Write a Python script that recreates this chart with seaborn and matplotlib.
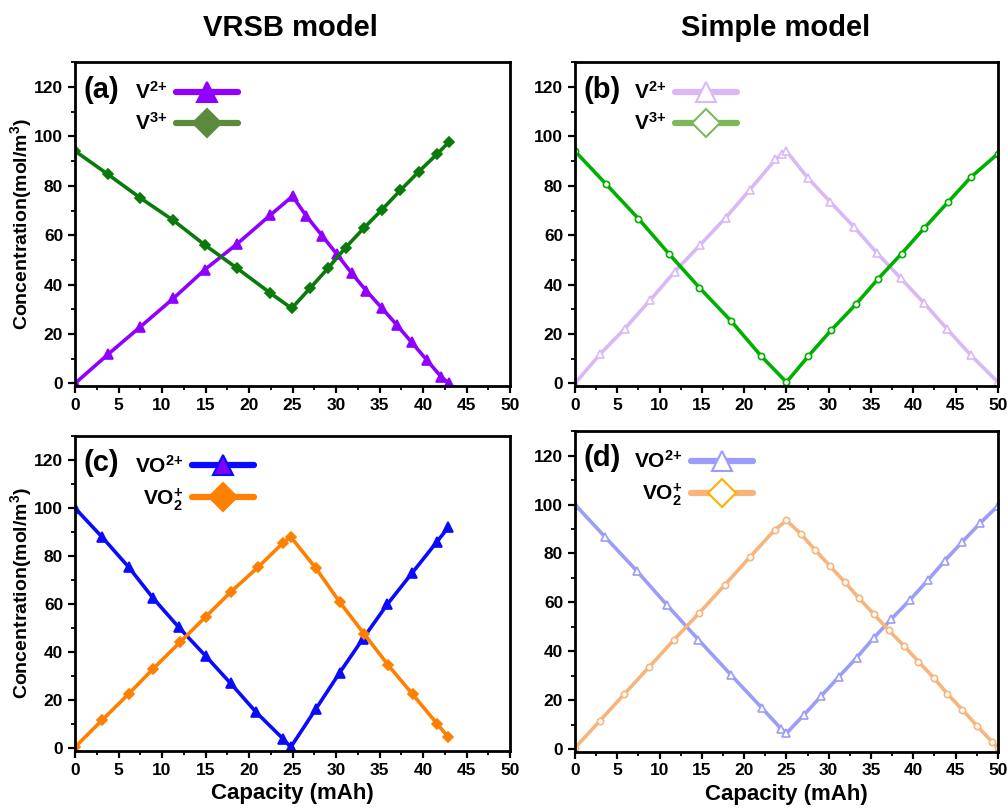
import matplotlib
matplotlib.use("Agg")
import matplotlib.pyplot as plt
import seaborn as sns
from matplotlib.lines import Line2D
from matplotlib.ticker import MultipleLocator

# Data
# (a) VRSB model, negative side
a_v2_x = [0, 3.8, 7.5, 11.3, 14.9, 18.6, 22.4, 25.0, 26.6, 28.4, 30.1, 31.8, 33.5, 35.3, 37.0, 38.7, 40.4, 42.1, 43.0]
a_v2_y = [0, 11.8, 22.9, 34.4, 46.0, 56.4, 68.0, 75.8, 67.7, 59.8, 52.3, 44.6, 37.4, 30.4, 23.6, 16.6, 9.6, 2.6, 0]
a_v3_x = [0, 3.8, 7.5, 11.3, 14.9, 18.6, 22.4, 24.9, 27.0, 29.1, 31.1, 33.2, 35.3, 37.4, 39.5, 41.6, 43.0]
a_v3_y = [94.1, 84.6, 75.1, 66.0, 56.1, 46.7, 36.7, 30.4, 38.5, 46.7, 55.0, 62.9, 70.4, 78.2, 85.7, 92.8, 97.8]

# (b) simple model, negative side
b_v2_x = [0, 3.0, 5.9, 8.9, 11.8, 14.8, 17.8, 20.7, 23.7, 24.5, 25.0, 27.5, 30.2, 33.0, 35.7, 38.5, 41.3, 44.0, 46.8, 50.0]
b_v2_y = [0, 12.0, 22.2, 33.8, 45.3, 56.1, 67.0, 78.5, 90.7, 93.0, 94.0, 83.3, 73.4, 63.3, 52.8, 42.6, 32.4, 22.0, 11.4, 0.5]
b_v3_x = [0, 3.7, 7.5, 11.1, 14.7, 18.5, 22.0, 25.0, 27.6, 30.3, 33.2, 35.8, 38.6, 41.3, 44.1, 46.8, 50.0]
b_v3_y = [94.0, 80.6, 66.7, 52.5, 38.8, 25.1, 11.1, 0.5, 11.1, 21.6, 32.0, 42.2, 52.5, 62.9, 73.4, 83.5, 93.0]

# (c) VRSB model, positive side
c_vo_x = [0, 3.1, 6.2, 9.0, 11.9, 15.0, 17.9, 20.8, 23.9, 24.8, 27.7, 30.4, 33.1, 35.9, 38.7, 41.6, 42.9]
c_vo_y = [100, 88.0, 75.3, 62.4, 50.5, 38.5, 27.0, 15.1, 4.0, 0.5, 16.5, 31.4, 45.7, 60.0, 72.8, 86.0, 92.0]
c_vo2_x = [0, 3.1, 6.2, 9.0, 12.1, 15.0, 17.9, 21.0, 23.9, 24.8, 27.7, 30.4, 33.2, 36.0, 38.8, 41.6, 42.9]
c_vo2_y = [0.5, 11.7, 22.8, 33.2, 44.3, 54.7, 65.1, 75.3, 85.5, 88.0, 74.9, 61.0, 47.8, 34.6, 22.5, 10.3, 4.7]

# (d) simple model, positive side
d_vo_x = [0, 3.6, 7.3, 10.9, 14.6, 18.4, 22.1, 24.4, 25.0, 27.1, 29.1, 31.2, 33.3, 35.3, 37.4, 39.6, 41.7, 43.7, 45.8, 47.9, 50.0]
d_vo_y = [100, 86.6, 72.9, 58.8, 44.7, 30.5, 16.8, 8.2, 6.5, 14.1, 21.7, 29.6, 37.4, 45.4, 53.2, 61.0, 69.0, 77.0, 84.8, 92.4, 99.5]
d_vo2_x = [0, 2.9, 5.8, 8.8, 11.7, 14.7, 17.7, 20.7, 23.6, 25.0, 26.7, 28.4, 30.1, 31.9, 33.6, 35.3, 37.1, 38.9, 40.6, 42.4, 44.0, 45.8, 47.5, 49.3, 50.0]
d_vo2_y = [0.5, 11.4, 22.4, 33.7, 44.7, 55.7, 67.1, 78.6, 89.6, 93.5, 88.0, 81.4, 75.0, 68.3, 61.6, 55.3, 48.6, 42.2, 35.8, 29.2, 22.7, 16.1, 9.6, 3.0, 0.5]

lbl_v2 = r"V$^{2{+}}$"
lbl_v3 = r"V$^{3{+}}$"
lbl_vo = r"VO$^{2{+}}$"
lbl_vo2 = r"VO$_2^{{+}}$"

sns.set_style("ticks")
plt.rcParams['font.family'] = ['Liberation Sans', 'DejaVu Sans']
plt.rcParams['font.weight'] = 'bold'
plt.rcParams['mathtext.fontset'] = 'custom'
plt.rcParams['mathtext.rm'] = 'Liberation Sans:bold'
plt.rcParams['mathtext.bf'] = 'Liberation Sans:bold'
plt.rcParams['mathtext.it'] = 'Liberation Sans:bold'
for key in ['text.color', 'axes.labelcolor', 'xtick.color', 'ytick.color', 'axes.edgecolor']:
    plt.rcParams[key] = 'black'

fig = plt.figure(figsize=(10.07, 8.09), dpi=100)
ax_a = fig.add_axes([0.0745, 0.523, 0.432, 0.400])
ax_b = fig.add_axes([0.571, 0.523, 0.420, 0.400])
ax_c = fig.add_axes([0.0745, 0.072, 0.432, 0.389])
ax_d = fig.add_axes([0.571, 0.071, 0.420, 0.396])


def draw_line(ax, x, y, color, marker, ms, face):
    sns.lineplot(x=x, y=y, ax=ax, color=color, linewidth=2.6, marker=marker,
                 markersize=ms, markerfacecolor=face, markeredgecolor=color,
                 markeredgewidth=1.2, sort=False, estimator=None, legend=False)


def setup_axes(ax, tag, handles, labels, xlabel, ylabel):
    ax.set_xlim(0, 50)
    ax.set_ylim(-1, 130)
    ax.xaxis.set_major_locator(MultipleLocator(5))
    ax.xaxis.set_minor_locator(MultipleLocator(2.5))
    ax.yaxis.set_major_locator(MultipleLocator(20))
    ax.yaxis.set_minor_locator(MultipleLocator(10))
    ax.set_yticks([0, 20, 40, 60, 80, 100, 120])
    ax.tick_params(which='major', direction='out', length=5, width=1.6, labelsize=12.5)
    ax.tick_params(which='minor', direction='out', length=3, width=1.3)
    for lab in ax.get_xticklabels() + ax.get_yticklabels():
        lab.set_fontweight('bold')
    for sp in ax.spines.values():
        sp.set_linewidth(2)
        sp.set_visible(True)
    ax.text(0.02, 0.915, tag, transform=ax.transAxes, fontsize=21,
            fontweight='bold', va='center', ha='left')
    ax.legend(handles, labels, loc='upper left', bbox_to_anchor=(0.095, 1.0),
              frameon=False, markerfirst=False, handlelength=3.0,
              handletextpad=0.4, labelspacing=0.45,
              prop={'size': 15, 'weight': 'bold'})
    if xlabel:
        ax.set_xlabel("Capacity (mAh)", fontsize=16, fontweight='bold', labelpad=4)
    else:
        ax.set_xlabel("")
    if ylabel:
        ax.set_ylabel(r"Concentration(mol/m$^3$)", fontsize=14, fontweight='bold', labelpad=0)
    else:
        ax.set_ylabel("")


def handle(color, marker, face, edge=None):
    return Line2D([0], [0], color=color, linewidth=4.5, marker=marker, markersize=14,
                  markerfacecolor=face, markeredgecolor=edge or color, markeredgewidth=1.5)


# (a)
draw_line(ax_a, a_v2_x, a_v2_y, "#8F00FF", "^", 6.5, "#8F00FF")
draw_line(ax_a, a_v3_x, a_v3_y, "#0A7A0A", "D", 5, "#0A7A0A")
setup_axes(ax_a, "(a)",
           [handle("#8F00FF", "^", "#8F00FF"), handle("#5B8A3C", "D", "#5B8A3C")],
           [lbl_v2, lbl_v3], False, True)

# (b)
draw_line(ax_b, b_v2_x, b_v2_y, "#D9B8F8", "^", 5.5, "white")
draw_line(ax_b, b_v3_x, b_v3_y, "#00B000", "o", 4.5, "white")
setup_axes(ax_b, "(b)",
           [handle("#D9B8F8", "^", "white"), handle("#7DB85A", "D", "white")],
           [lbl_v2, lbl_v3], False, False)

# (c)
draw_line(ax_c, c_vo_x, c_vo_y, "#0A0AFF", "^", 6.5, "#0A0AFF")
draw_line(ax_c, c_vo2_x, c_vo2_y, "#FF8000", "D", 5, "#FF8000")
setup_axes(ax_c, "(c)",
           [handle("#0A0AFF", "^", "#7F00FF"), handle("#FF8000", "D", "#FF8000")],
           [lbl_vo, lbl_vo2], True, True)

# (d)
draw_line(ax_d, d_vo_x, d_vo_y, "#9C9CFA", "^", 5.5, "white")
draw_line(ax_d, d_vo2_x, d_vo2_y, "#F9B47C", "o", 4.5, "white")
setup_axes(ax_d, "(d)",
           [handle("#9C9CFA", "^", "white"), handle("#F9B47C", "D", "white", "#FFB000")],
           [lbl_vo, lbl_vo2], True, False)

fig.text(0.288, 0.965, "VRSB model", ha='center', va='center', fontsize=21, fontweight='bold')
fig.text(0.770, 0.965, "Simple model", ha='center', va='center', fontsize=21, fontweight='bold')

fig.savefig("out.png", dpi=100)
